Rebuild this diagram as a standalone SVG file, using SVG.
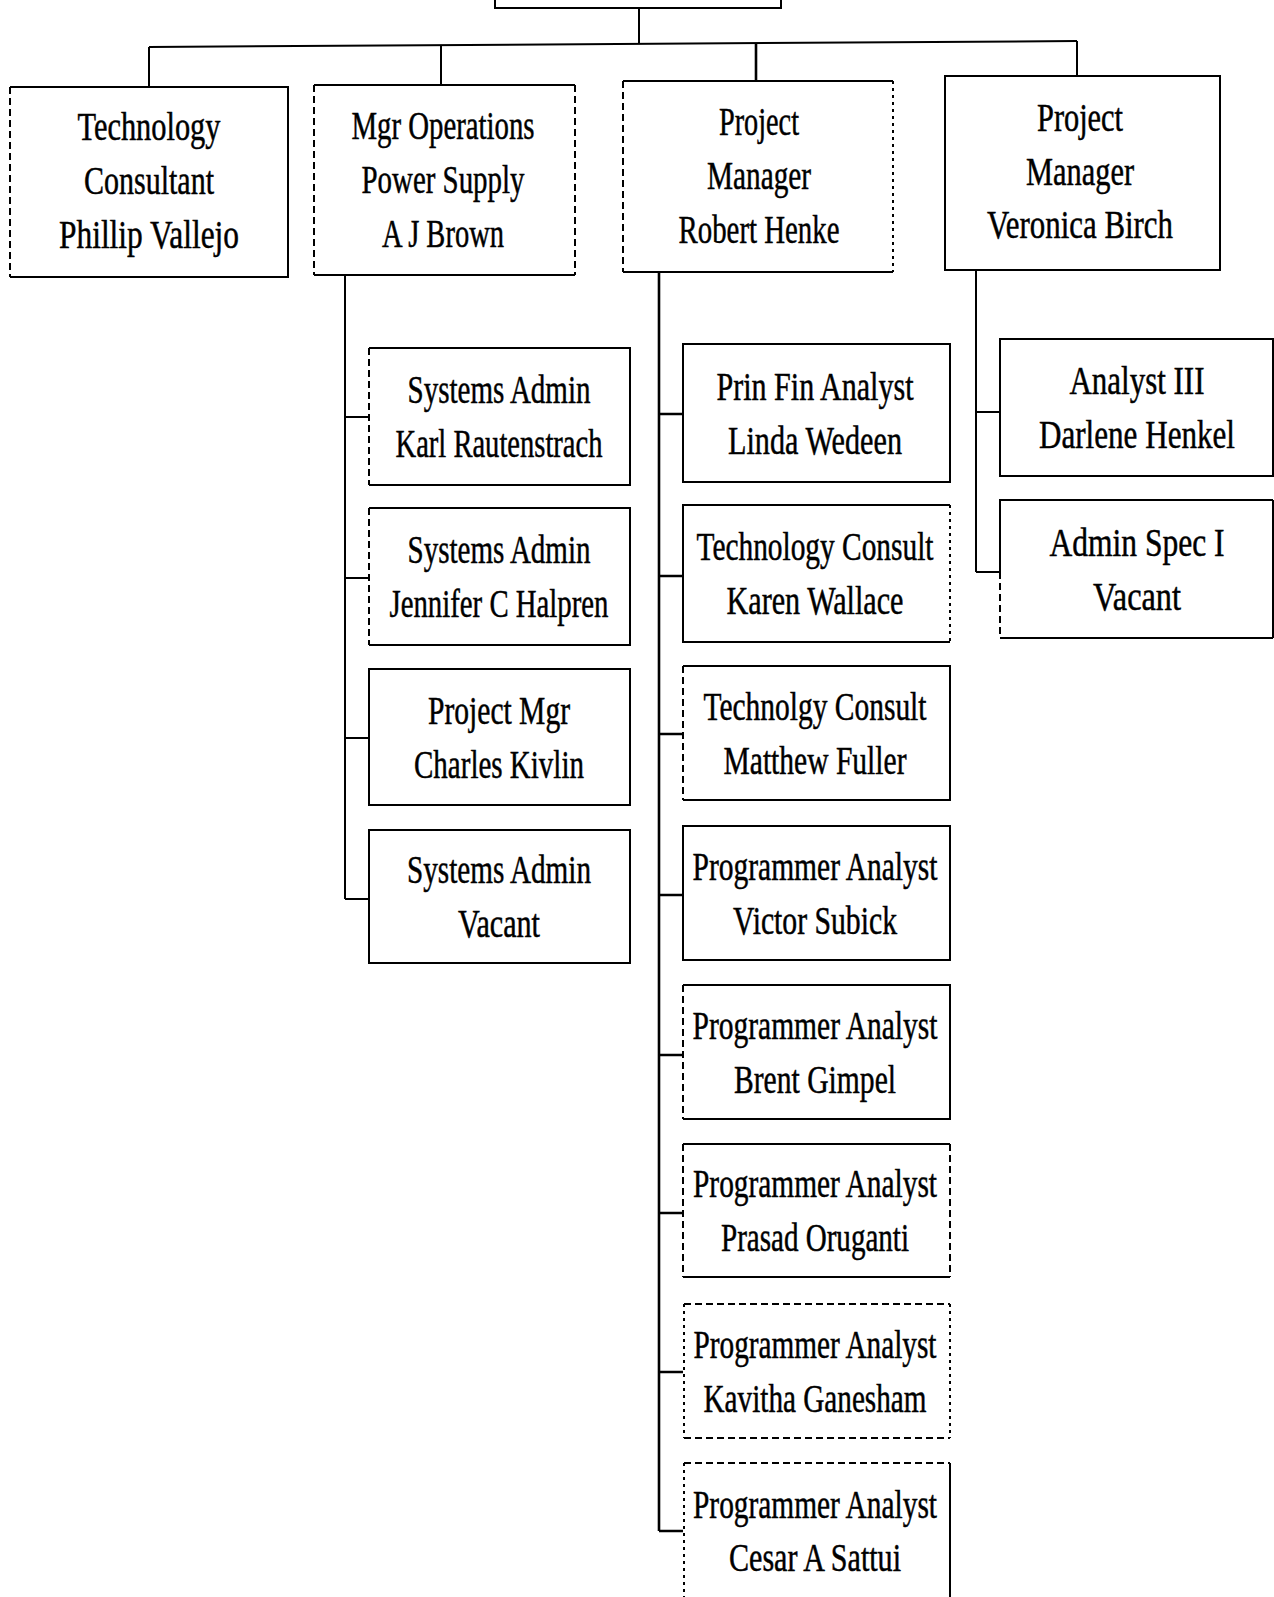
<svg xmlns="http://www.w3.org/2000/svg" width="1274" height="1597" viewBox="0 0 1274 1597">
<style>
.bg{fill:#fff;stroke:none}
.s{fill:none;stroke:#000;stroke-width:2}
.d{fill:none;stroke:#000;stroke-width:2;stroke-dasharray:7 4}
.o{fill:none;stroke:#000;stroke-width:2;stroke-dasharray:3 4}
.c{fill:none;stroke:#000;stroke-width:2}
.c3{fill:none;stroke:#000;stroke-width:2.6}
text{font-family:"Liberation Serif","Times New Roman",serif;font-size:41px;fill:#000;stroke:#000;stroke-width:0.5;text-anchor:middle}
</style>
<rect width="1274" height="1597" fill="#fff"/>
<g id="connectors">
<line class="c" x1="639" y1="8" x2="639" y2="44"/>
<line class="c" x1="149" y1="47" x2="1077" y2="41"/>
<line class="c" x1="149" y1="47" x2="149" y2="87"/>
<line class="c" x1="441" y1="46" x2="441" y2="85"/>
<line class="c3" x1="756" y1="44" x2="756" y2="81"/>
<line class="c" x1="1077" y1="41" x2="1077" y2="76"/>
<path class="c" d="M345 275V899M345 417H369M345 578H369M345 738H369M345 899H369"/>
<path class="c3" d="M659 272V1531M659 414H683M659 576H683M659 734H683M659 895H683M659 1055H683M659 1213H683M659 1372H683M659 1531H683"/>
<path class="c" d="M976 270V572M976 412H1000M976 572H1000"/>
</g>
<g id="top">
<rect class="bg" x="495" y="-10" width="286" height="18"/>
<path class="s" d="M495 -10V8H781V-10"/>
</g>
<g id="n-vallejo">
<rect class="bg" x="10" y="87" width="278" height="190"/>
<path class="s" d="M10 87H288V277H10"/>
<path class="d" d="M10 87V277"/>
<text x="149" y="140" textLength="143" lengthAdjust="spacingAndGlyphs">Technology</text>
<text x="149" y="194" textLength="130" lengthAdjust="spacingAndGlyphs">Consultant</text>
<text x="149" y="248" textLength="180" lengthAdjust="spacingAndGlyphs">Phillip Vallejo</text>
</g>
<g id="n-brown">
<rect class="bg" x="314" y="85" width="261" height="190"/>
<path class="s" d="M314 85H575M314 275H575"/>
<path class="d" d="M314 85V275M575 85V275"/>
<text x="443" y="139" textLength="183" lengthAdjust="spacingAndGlyphs">Mgr Operations</text>
<text x="443" y="193" textLength="163" lengthAdjust="spacingAndGlyphs">Power Supply</text>
<text x="443" y="247" textLength="122" lengthAdjust="spacingAndGlyphs">A J Brown</text>
</g>
<g id="n-henke">
<rect class="bg" x="623" y="81" width="270" height="191"/>
<path class="s" d="M623 81H893M623 272H893"/>
<path class="d" d="M623 81V272"/>
<path class="o" d="M893 81V272"/>
<text x="759" y="135" textLength="80" lengthAdjust="spacingAndGlyphs">Project</text>
<text x="759" y="189" textLength="104" lengthAdjust="spacingAndGlyphs">Manager</text>
<text x="759" y="243" textLength="161" lengthAdjust="spacingAndGlyphs">Robert Henke</text>
</g>
<g id="n-birch">
<rect class="s" x="945" y="76" width="275" height="194" fill="#fff"/>
<text x="1080" y="131" textLength="86" lengthAdjust="spacingAndGlyphs">Project</text>
<text x="1080" y="185" textLength="108" lengthAdjust="spacingAndGlyphs">Manager</text>
<text x="1080" y="238" textLength="186" lengthAdjust="spacingAndGlyphs">Veronica Birch</text>
</g>
<g id="n-rautenstrach">
<rect class="bg" x="369" y="348" width="261" height="137"/>
<path class="s" d="M369 348H630V485H369"/>
<path class="d" d="M369 348V485"/>
<text x="499" y="403" textLength="183" lengthAdjust="spacingAndGlyphs">Systems Admin</text>
<text x="499" y="457" textLength="207" lengthAdjust="spacingAndGlyphs">Karl Rautenstrach</text>
</g>
<g id="n-halpren">
<rect class="bg" x="369" y="508" width="261" height="137"/>
<path class="s" d="M369 508H630V645H369"/>
<path class="d" d="M369 508V645"/>
<text x="499" y="563" textLength="183" lengthAdjust="spacingAndGlyphs">Systems Admin</text>
<text x="499" y="617" textLength="219" lengthAdjust="spacingAndGlyphs">Jennifer C Halpren</text>
</g>
<g id="n-kivlin">
<rect class="s" x="369" y="669" width="261" height="136" fill="#fff"/>
<text x="499" y="724" textLength="142" lengthAdjust="spacingAndGlyphs">Project Mgr</text>
<text x="499" y="778" textLength="170" lengthAdjust="spacingAndGlyphs">Charles Kivlin</text>
</g>
<g id="n-sysvacant">
<rect class="s" x="369" y="830" width="261" height="133" fill="#fff"/>
<text x="499" y="883" textLength="184" lengthAdjust="spacingAndGlyphs">Systems Admin</text>
<text x="499" y="937" textLength="82" lengthAdjust="spacingAndGlyphs">Vacant</text>
</g>
<g id="n-wedeen">
<rect class="s" x="683" y="344" width="267" height="138" fill="#fff"/>
<text x="815" y="400" textLength="197" lengthAdjust="spacingAndGlyphs">Prin Fin Analyst</text>
<text x="815" y="454" textLength="174" lengthAdjust="spacingAndGlyphs">Linda Wedeen</text>
</g>
<g id="n-wallace">
<rect class="bg" x="683" y="505" width="267" height="137"/>
<path class="s" d="M950 505H683V642H950"/>
<path class="o" d="M950 505V642"/>
<text x="815" y="560" textLength="237" lengthAdjust="spacingAndGlyphs">Technology Consult</text>
<text x="815" y="614" textLength="177" lengthAdjust="spacingAndGlyphs">Karen Wallace</text>
</g>
<g id="n-fuller">
<rect class="bg" x="683" y="666" width="267" height="134"/>
<path class="s" d="M683 666H950V800H683"/>
<path class="d" d="M683 666V800"/>
<text x="815" y="720" textLength="223" lengthAdjust="spacingAndGlyphs">Technolgy Consult</text>
<text x="815" y="774" textLength="183" lengthAdjust="spacingAndGlyphs">Matthew Fuller</text>
</g>
<g id="n-subick">
<rect class="s" x="683" y="826" width="267" height="134" fill="#fff"/>
<text x="815" y="880" textLength="245" lengthAdjust="spacingAndGlyphs">Programmer Analyst</text>
<text x="815" y="934" textLength="164" lengthAdjust="spacingAndGlyphs">Victor Subick</text>
</g>
<g id="n-gimpel">
<rect class="bg" x="683" y="985" width="267" height="134"/>
<path class="s" d="M683 985H950V1119H683"/>
<path class="d" d="M683 985V1119"/>
<text x="815" y="1039" textLength="245" lengthAdjust="spacingAndGlyphs">Programmer Analyst</text>
<text x="815" y="1093" textLength="162" lengthAdjust="spacingAndGlyphs">Brent Gimpel</text>
</g>
<g id="n-oruganti">
<rect class="bg" x="683" y="1144" width="267" height="133"/>
<path class="s" d="M683 1144H950M683 1277H950"/>
<path class="d" d="M683 1144V1277M950 1144V1277"/>
<text x="815" y="1197" textLength="244" lengthAdjust="spacingAndGlyphs">Programmer Analyst</text>
<text x="815" y="1251" textLength="188" lengthAdjust="spacingAndGlyphs">Prasad Oruganti</text>
</g>
<g id="n-ganesham">
<rect class="bg" x="684" y="1304" width="266" height="134"/>
<path class="d" d="M684 1304H950M684 1438H950"/>
<path class="o" d="M684 1304V1438M950 1304V1438"/>
<text x="815" y="1358" textLength="243" lengthAdjust="spacingAndGlyphs">Programmer Analyst</text>
<text x="815" y="1412" textLength="223" lengthAdjust="spacingAndGlyphs">Kavitha Ganesham</text>
</g>
<g id="n-sattui">
<rect class="bg" x="684" y="1463" width="266" height="140"/>
<path class="d" d="M684 1463H950"/>
<path class="s" d="M950 1463V1603"/>
<path class="o" d="M684 1463V1603"/>
<text x="815" y="1518" textLength="244" lengthAdjust="spacingAndGlyphs">Programmer Analyst</text>
<text x="815" y="1571" textLength="172" lengthAdjust="spacingAndGlyphs">Cesar A Sattui</text>
</g>
<g id="n-henkel">
<rect class="s" x="1000" y="339" width="273" height="137" fill="#fff"/>
<text x="1137" y="394" textLength="135" lengthAdjust="spacingAndGlyphs">Analyst III</text>
<text x="1137" y="448" textLength="196" lengthAdjust="spacingAndGlyphs">Darlene Henkel</text>
</g>
<g id="n-adminspec">
<rect class="bg" x="1000" y="500" width="273" height="138"/>
<path class="s" d="M1273 500H1000V572M1000 638H1273M1273 500V638"/>
<path class="d" d="M1000 572V638"/>
<text x="1137" y="556" textLength="175" lengthAdjust="spacingAndGlyphs">Admin Spec I</text>
<text x="1137" y="610" textLength="88" lengthAdjust="spacingAndGlyphs">Vacant</text>
</g>
</svg>
